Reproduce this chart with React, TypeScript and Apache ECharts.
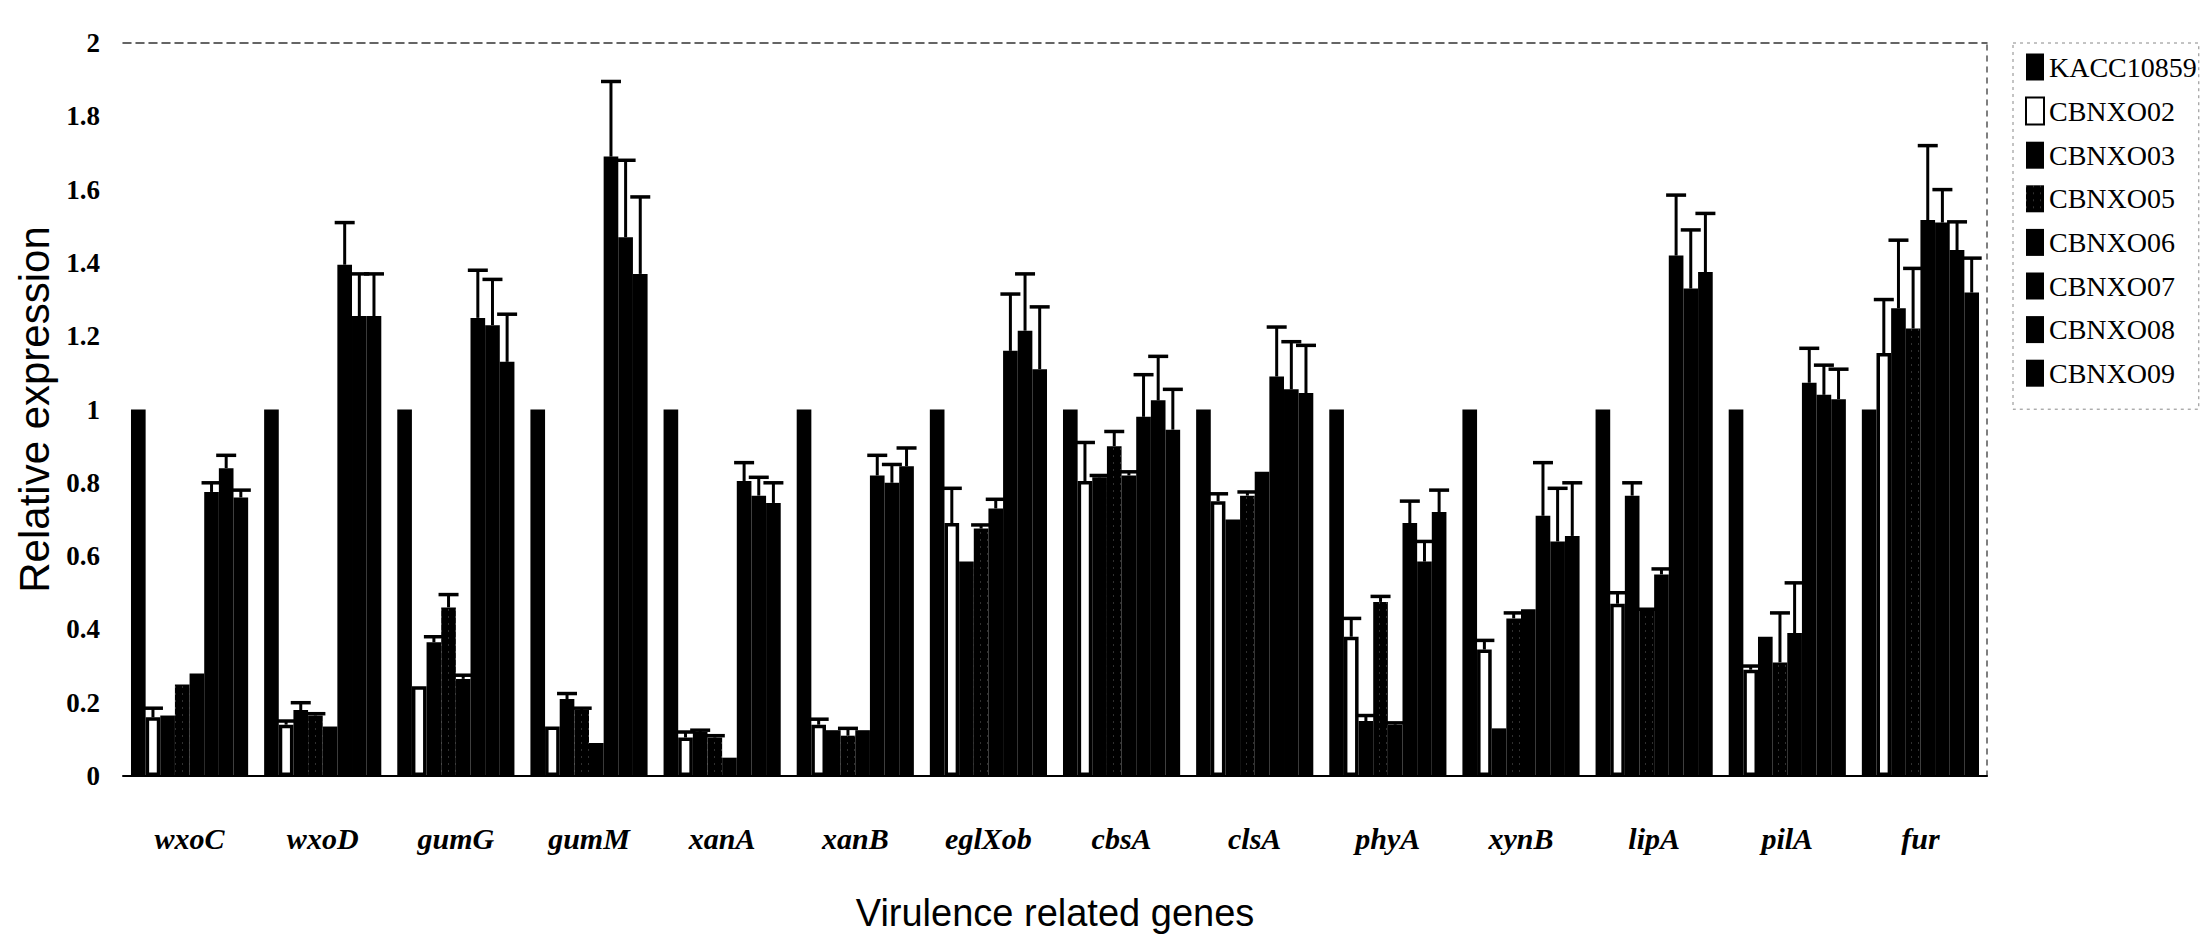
import React, { useEffect, useRef } from "react";
import * as echarts from "echarts";

// ---- categories ----
const genes = ["wxoC", "wxoD", "gumG", "gumM", "xanA", "xanB", "eglXob", "cbsA", "clsA", "phyA", "xynB", "lipA", "pilA", "fur"];
const strains = ["KACC10859", "CBNXO02", "CBNXO03", "CBNXO05", "CBNXO06", "CBNXO07", "CBNXO08", "CBNXO09"];

// ---- y axis ticks ----
const yMin = 0;
const yMax = 2;
const yStep = 0.2;

// ---- series values (relative expression) ----
const kacc10859 = [1, 1, 1, 1, 1, 1, 1, 1, 1, 1, 1, 1, 1, 1];
const cbnxo02 = [0.16, 0.14, 0.245, 0.135, 0.105, 0.14, 0.69, 0.805, 0.75, 0.38, 0.345, 0.47, 0.29, 1.154];
const cbnxo03 = [0.165, 0.18, 0.365, 0.21, 0.12, 0.125, 0.585, 0.815, 0.7, 0.15, 0.13, 0.765, 0.38, 1.276];
const cbnxo05 = [0.25, 0.165, 0.46, 0.18, 0.105, 0.11, 0.675, 0.9, 0.765, 0.475, 0.43, 0.45, 0.31, 1.221];
const cbnxo06 = [0.28, 0.135, 0.265, 0.09, 0.05, 0.125, 0.73, 0.82, 0.83, 0.14, 0.455, 0.55, 0.39, 1.517];
const cbnxo07 = [0.775, 1.395, 1.25, 1.69, 0.805, 0.82, 1.16, 0.98, 1.09, 0.69, 0.71, 1.42, 1.073, 1.51];
const cbnxo08 = [0.84, 1.255, 1.23, 1.47, 0.765, 0.8, 1.215, 1.025, 1.055, 0.585, 0.64, 1.33, 1.04, 1.435];
const cbnxo09 = [0.76, 1.255, 1.13, 1.37, 0.745, 0.845, 1.11, 0.945, 1.045, 0.72, 0.655, 1.375, 1.028, 1.319];

// ---- upper ends of error bars (null = not visible) ----
const errKacc10859: (number | null)[] = [null, null, null, null, null, null, null, null, null, null, null, null, null, null];
const err02: (number | null)[] = [0.185, 0.15, null, null, 0.12, 0.155, 0.785, 0.91, 0.77, 0.43, 0.37, 0.5, 0.3, 1.3];
const err03: (number | null)[] = [null, 0.2, 0.38, 0.225, 0.125, null, null, 0.82, null, 0.165, null, 0.8, null, 1.462];
const err05: (number | null)[] = [null, 0.17, 0.495, 0.185, 0.11, 0.13, 0.685, 0.94, 0.775, 0.49, 0.445, 0.455, 0.445, 1.385];
const err06: (number | null)[] = [null, null, 0.275, null, null, null, 0.755, 0.83, null, 0.145, null, 0.565, 0.527, 1.72];
const err07: (number | null)[] = [0.8, 1.51, 1.38, 1.895, 0.855, 0.875, 1.315, 1.095, 1.225, 0.75, 0.855, 1.585, 1.167, 1.6];
const err08: (number | null)[] = [0.875, 1.37, 1.355, 1.68, 0.815, 0.85, 1.37, 1.145, 1.185, 0.64, 0.785, 1.49, 1.121, 1.512];
const err09: (number | null)[] = [0.78, 1.37, 1.26, 1.58, 0.8, 0.895, 1.28, 1.055, 1.175, 0.78, 0.8, 1.535, 1.11, 1.413];

const values = [kacc10859, cbnxo02, cbnxo03, cbnxo05, cbnxo06, cbnxo07, cbnxo08, cbnxo09];
const errors = [errKacc10859, err02, err03, err05, err06, err07, err08, err09];

const CATEGORY_GAP = 0.12;

export default function App() {
  const ref = useRef<HTMLDivElement>(null);

  useEffect(() => {
    document.body.style.margin = "0";
    if (!ref.current) return;
    const chart = echarts.init(ref.current, undefined, { renderer: "svg" });

    const barSeries: any[] = strains.map((name, i) => {
      const white = i === 1;
      const itemStyle: any = white
        ? { color: "#ffffff", borderColor: "#000000", borderWidth: 3.5 }
        : { color: "#000000" };
      if (i === 3) {
        itemStyle.decal = {
          symbol: "rect",
          symbolSize: 0.5,
          color: "rgba(255,255,255,0.75)",
          dashArrayX: [[1, 6]],
          dashArrayY: [2, 5],
        };
      }
      return {
        name,
        type: "bar",
        data: values[i],
        barGap: "0%",
        barCategoryGap: CATEGORY_GAP * 100 + "%",
        itemStyle,
        emphasis: { disabled: true },
        z: 2,
      };
    });

    const errSeries: any[] = strains.map((name, i) => {
      const data: number[][] = [];
      errors[i].forEach((e, ci) => {
        if (e !== null && e > values[i][ci]) data.push([ci, e, values[i][ci]]);
      });
      return {
        name: name + " error",
        type: "custom",
        data,
        z: 5,
        silent: true,
        renderItem: (params: any, api: any) => {
          const ci = api.value(0);
          const top = api.value(1);
          const base = api.value(2);
          const band = api.size([1, 0])[0];
          const barW = (band * (1 - CATEGORY_GAP)) / strains.length;
          const pTop = api.coord([ci, top]);
          const pBase = api.coord([ci, base]);
          const x = pTop[0] + (i - (strains.length - 1) / 2) * barW;
          const half = 10;
          return {
            type: "group",
            children: [
              {
                type: "line",
                shape: { x1: x, y1: pBase[1], x2: x, y2: pTop[1] },
                style: { stroke: "#000", lineWidth: 3 },
              },
              {
                type: "line",
                shape: { x1: x - half, y1: pTop[1], x2: x + half, y2: pTop[1] },
                style: { stroke: "#000", lineWidth: 3.5 },
              },
            ],
          };
        },
      };
    });

    const option: any = {
      animation: false,
      backgroundColor: "#ffffff",
      grid: { left: 123, right: 217, top: 43, bottom: 161, containLabel: false },
      legend: {
        data: strains.map((s) => ({ name: s, icon: "rect" })),
        orient: "vertical",
        left: 2013,
        top: 43,
        padding: [10, 2, 22, 12],
        itemWidth: 18,
        itemHeight: 27,
        itemGap: 15.6,
        borderColor: "#888",
        borderWidth: 1,
        borderType: [3, 4],
        selectedMode: false,
        textStyle: { fontFamily: "Liberation Serif", fontSize: 28, color: "#000" },
      },
      xAxis: [
        {
          type: "category",
          data: genes,
          position: "bottom",
          axisLine: { show: true, lineStyle: { color: "#000", width: 2 } },
          axisTick: { show: false },
          splitLine: { show: false },
          axisLabel: {
            color: "#000",
            fontFamily: "Liberation Serif",
            fontStyle: "italic",
            fontWeight: "bold",
            fontSize: 30,
            margin: 47,
            interval: 0,
          },
          name: "Virulence related genes",
          nameLocation: "middle",
          nameGap: 118,
          nameTextStyle: { fontFamily: "Liberation Sans", fontSize: 38, color: "#000" },
        },
        {
          type: "category",
          data: genes,
          position: "top",
          axisLine: { show: true, onZero: false, lineStyle: { color: "#333", width: 1.5, type: [8, 5] } },
          axisTick: { show: false },
          axisLabel: { show: false },
          splitLine: { show: false },
        },
      ],
      yAxis: [
        {
          type: "value",
          min: yMin,
          max: yMax,
          interval: yStep,
          axisLine: { show: false },
          axisTick: { show: false },
          splitLine: { show: false },
          axisLabel: {
            color: "#000",
            fontFamily: "Liberation Serif",
            fontWeight: "bold",
            fontSize: 27,
            margin: 23,
          },
          name: "Relative expression",
          nameLocation: "middle",
          nameRotate: 90,
          nameGap: 62,
          nameTextStyle: { fontFamily: "Liberation Sans", fontSize: 42, color: "#000" },
        },
        {
          type: "value",
          min: yMin,
          max: yMax,
          interval: yStep,
          position: "right",
          axisLine: { show: true, onZero: false, lineStyle: { color: "#555", width: 1.5, type: [5, 6] } },
          axisTick: { show: false },
          axisLabel: { show: false },
          splitLine: { show: false },
        },
      ],
      series: [...barSeries, ...errSeries],
    };

    chart.setOption(option);
    return () => chart.dispose();
  }, []);

  return (
    <div
      ref={ref}
      style={{ position: "fixed", left: 0, top: 0, width: 2204, height: 937, background: "#fff" }}
    />
  );
}
